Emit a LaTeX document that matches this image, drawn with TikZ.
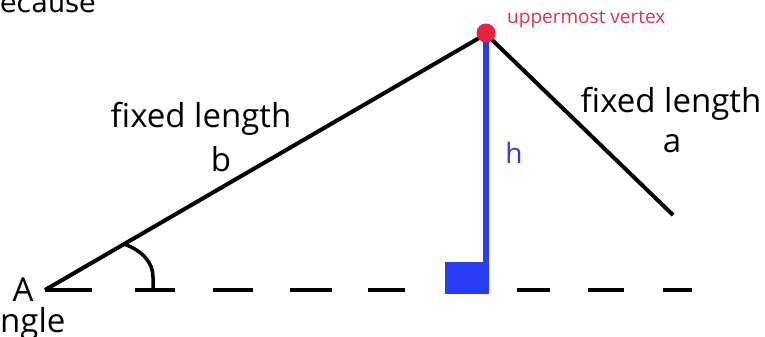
\documentclass[tikz,border=0pt]{standalone}
\usepackage{fontspec}
\setmainfont{Open Sans}
\newfontfamily\handfont{DejaVu Sans}
\definecolor{hblue}{RGB}{40,60,240}
\definecolor{vred}{RGB}{236,32,64}
\definecolor{tred}{RGB}{222,50,72}
\begin{document}
\begin{tikzpicture}[x=1pt,y=-1pt,
  blk/.style={line width=4pt,black},
  dsh/.style={line width=4pt,black},
  lbl/.style={inner sep=0pt,font=\fontsize{33}{33}\selectfont},
]
\useasboundingbox (0,0) rectangle (765,337);
% key points
\coordinate (A) at (45,290);
\coordinate (V) at (486,34);
\coordinate (R) at (673,215);
\coordinate (F) at (486,293);
% sides
\draw[blk] (A) -- (V);
\draw[blk] (V) -- (R);
% dashed base line
\foreach \a/\b in {45/92,135/175,213/253,290/332,368/405,517/550,588/624,663/692}
  \draw[dsh] (\a,290) -- (\b,290);
% angle mark
\coordinate (arcS) at (124,244);
\coordinate (arcE) at (153,290);
\draw[line width=3.5pt] (arcS) .. controls (143,251) and (153,263) .. (153,277) -- (arcE);
% height
\fill[hblue] (445,262) rectangle (489,294);
\draw[hblue,line width=6pt] (V) -- (F);
% vertex dot
\node[circle,fill=vred,inner sep=0pt,minimum size=19pt] (dot) at (486,33) {};
% labels
\node[lbl,anchor=base] (lb) at (201,127) {fixed length};
\node[lbl,anchor=base] (b) at (221,171) {b};
\node[lbl,anchor=base] (la) at (671,112) {fixed length};
\node[lbl,anchor=base] (a) at (672,152) {a};
\node[inner sep=0pt,anchor=base,text=hblue,font=\fontsize{28}{28}\selectfont] (h) at (514,163) {h};
\node[inner sep=0pt,anchor=west,text=tred,font=\fontsize{19}{19}\selectfont] (uv) at (507,20) {uppermost vertex};
\node[lbl,anchor=base] (lA) at (23,301) {A};
\node[lbl,anchor=base west] (ngle) at (0,332) {ngle};
\node[inner sep=0pt,anchor=base east,font=\handfont\fontsize{27}{27}\selectfont] (bec) at (96,13) {because};
\end{tikzpicture}
\end{document}
